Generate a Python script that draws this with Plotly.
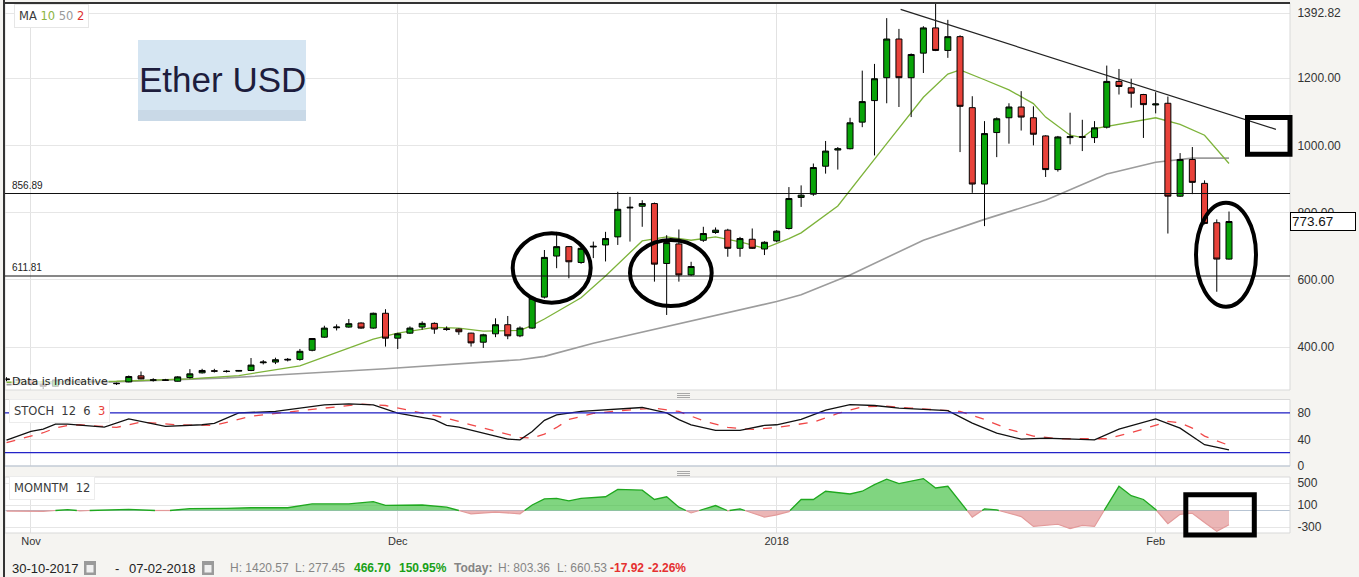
import numpy as np
import pandas as pd
import plotly.graph_objects as go

# ---------------- DATA ----------------
dates = pd.date_range("2017-10-30", "2018-02-07", freq="D")

open_ = [306, 304, 302, 290, 284, 303, 300, 297, 299, 293,
         297, 315, 302, 303, 299, 310, 324, 330, 329, 329,
         331, 354, 356, 362, 364, 391, 430, 458, 460, 472,
         457, 501,
         427, 442, 460, 471, 455, 454, 442, 415, 440, 467,
         434, 457, 549, 671, 699, 652, 698, 704, 728, 814,
         819, 827, 649, 707, 615, 718, 741, 748, 694, 721, 692,
         716, 753, 845, 855, 938, 986, 990, 1069, 1133, 1201,
         1316, 1201, 1274, 1349, 1282, 1323, 1112, 885, 1038, 1082,
         1114, 1082, 1028, 928, 1023, 1026, 1023, 1054, 1190, 1171, 1151,
         1120, 1125, 849, 958, 887, 770, 662]
high = [311, 309, 305, 293, 306, 307, 303, 302, 301, 295,
        316, 328, 308, 306, 314, 335, 336, 336, 332, 332,
        368, 362, 369, 368, 395, 427, 464, 468, 484, 474,
        503, 513,
        443, 462, 477, 474, 462, 456, 443, 440, 486, 493,
        462, 550, 689, 743, 700, 698, 714, 743, 862, 847,
        837, 830, 733, 750, 654, 758, 756, 752, 728, 753, 715,
        748, 876, 881, 946, 1013, 995, 1082, 1222, 1242, 1378,
        1346, 1273, 1354, 1420.57, 1373, 1327, 1146, 1072, 1083, 1125,
        1161, 1116, 1030, 1028, 1097, 1076, 1072, 1237, 1227, 1198, 1153,
        1158, 1145, 977, 995, 896, 780, 803.36]
low = [299, 300, 286, 277.45, 282, 296, 294, 292, 290, 288,
       296, 305, 298, 300, 298, 307, 322, 325, 325, 328,
       329, 349, 350, 358, 360, 388, 428, 450, 458, 455,
       455, 402,
       395, 440, 452, 440, 449, 437, 402, 398, 430, 424,
       430, 455, 545, 635, 605, 648, 665, 655, 704, 714,
       758, 595, 496, 595, 612, 713, 737, 669, 669, 692, 674,
       712, 750, 817, 850, 916, 928, 988, 1054, 970, 1125,
       1114, 1084, 1215, 1280, 1260, 980, 859, 760, 965, 1005,
       1044, 1000, 906, 922, 1003, 983, 1007, 1050, 1151, 1112, 1022,
       1095, 738, 847, 855, 765, 565, 660.53]
close = [304, 302, 290, 284, 303, 300, 297, 299, 293, 292,
         313, 306, 303, 302, 312, 321, 331, 329, 328, 331,
         347, 356, 363, 364, 388, 426, 457, 460, 470, 457,
         501, 427,
         440, 457, 471, 454, 453, 446, 413, 437, 467, 434,
         457, 546, 667, 699, 654, 694, 700, 723, 810, 816,
         827, 647, 711, 615, 640, 738, 748, 694, 723, 694, 712,
         745, 842, 852, 934, 983, 990, 1067, 1130, 1198, 1316,
         1201, 1270, 1349, 1282, 1323, 1116, 885, 1035, 1079, 1114,
         1084, 1033, 928, 1025, 1026, 1024, 1052, 1190, 1175, 1155, 1121,
         1123, 849, 958, 890, 768, 662, 773.67]

ma10_dates = ["2017-10-30", "2017-11-08", "2017-11-14", "2017-11-18", "2017-11-23", "2017-11-27",
              "2017-11-29", "2017-12-01", "2017-12-04", "2017-12-06", "2017-12-07", "2017-12-08",
              "2017-12-11", "2017-12-12", "2017-12-13", "2017-12-16", "2017-12-18", "2017-12-21",
              "2017-12-23", "2017-12-25", "2017-12-27", "2017-12-29", "2017-12-31", "2018-01-02",
              "2018-01-03", "2018-01-06", "2018-01-10", "2018-01-13", "2018-01-15", "2018-01-16",
              "2018-01-18", "2018-01-20", "2018-01-22", "2018-01-23", "2018-01-25", "2018-01-26",
              "2018-01-27", "2018-01-30", "2018-02-01", "2018-02-03", "2018-02-05", "2018-02-07"]
ma10 = [296, 299, 306, 316, 345, 398, 424, 442, 459, 457, 452, 448, 450, 465, 484,
        547, 612, 716, 728, 718, 728, 713, 694, 723, 740, 820, 1005, 1143, 1212, 1224,
        1195, 1165, 1124, 1084, 1030, 1023, 1050, 1069, 1082, 1062, 1030, 946]

ma50_dates = ["2017-10-30", "2017-11-06", "2017-11-17", "2017-11-30", "2017-12-11", "2017-12-13",
              "2017-12-17", "2017-12-26", "2018-01-01", "2018-01-03", "2018-01-07", "2018-01-13",
              "2018-01-18", "2018-01-23", "2018-01-28", "2018-02-01", "2018-02-04", "2018-02-07"]
ma50 = [289, 295, 309, 336, 363, 373, 412, 486, 536, 556, 615, 718, 780, 837, 915, 950, 962, 962]

stoch_k_dates = ["2017-10-30", "2017-11-01", "2017-11-02", "2017-11-03", "2017-11-04", "2017-11-07",
                 "2017-11-09", "2017-11-12", "2017-11-15", "2017-11-16", "2017-11-18", "2017-11-21",
                 "2017-11-25", "2017-11-27", "2017-11-29", "2017-12-01", "2017-12-04", "2017-12-05",
                 "2017-12-06", "2017-12-08", "2017-12-10", "2017-12-11", "2017-12-12", "2017-12-13",
                 "2017-12-14", "2017-12-16", "2017-12-18", "2017-12-21", "2017-12-23", "2017-12-24",
                 "2017-12-25", "2017-12-27", "2017-12-29", "2017-12-31", "2018-01-01", "2018-01-03",
                 "2018-01-05", "2018-01-07", "2018-01-09", "2018-01-11", "2018-01-15", "2018-01-17",
                 "2018-01-19", "2018-01-21", "2018-01-23", "2018-01-25", "2018-01-27", "2018-01-29",
                 "2018-02-01", "2018-02-03", "2018-02-05", "2018-02-07"]
stoch_k = [39, 52, 55.5, 63, 63, 58.6, 70.7, 59.5, 62, 64, 79.8, 82, 92, 93.5, 92,
           79.5, 69.7, 61, 58.6, 49.5, 40.4, 39.4, 52, 68.6, 77, 82, 84.8, 88, 79.8, 69.7,
           62, 53.5, 53.5, 61, 62, 70, 84, 92.4, 91, 87, 83.3, 64.6, 49.5, 40.4, 41.9,
           40.4, 39.4, 55.5, 70.7, 57, 32, 24.2]

stoch_d_dates = ["2017-10-30", "2017-11-01", "2017-11-02", "2017-11-03", "2017-11-04", "2017-11-05",
                 "2017-11-08", "2017-11-10", "2017-11-13", "2017-11-16", "2017-11-19", "2017-11-22",
                 "2017-11-26", "2017-11-28", "2017-11-30", "2017-12-02", "2017-12-05", "2017-12-07",
                 "2017-12-09", "2017-12-11", "2017-12-12", "2017-12-13", "2017-12-14", "2017-12-15",
                 "2017-12-17", "2017-12-19", "2017-12-22", "2017-12-24", "2017-12-26", "2017-12-28",
                 "2017-12-30", "2018-01-01", "2018-01-04", "2018-01-06", "2018-01-08", "2018-01-10",
                 "2018-01-12", "2018-01-16", "2018-01-18", "2018-01-20", "2018-01-22", "2018-01-24",
                 "2018-01-26", "2018-01-28", "2018-01-30", "2018-02-02", "2018-02-03", "2018-02-04",
                 "2018-02-05", "2018-02-07"]
stoch_d = [35, 45, 50, 57, 61, 62, 58, 66, 62, 61, 75, 81, 89, 93, 91, 83, 72, 62, 53, 43,
           42, 48, 58, 70, 79, 83, 87, 82, 68, 58, 55, 58, 66, 79, 89, 90, 87, 82, 70, 55,
           45, 41, 41, 41, 50, 67, 65, 57, 45, 31]

mom_dates = ["2017-10-30", "2017-11-02", "2017-11-04", "2017-11-05", "2017-11-09", "2017-11-12",
             "2017-11-14", "2017-11-17", "2017-11-19", "2017-11-22", "2017-11-24", "2017-11-27",
             "2017-11-29", "2017-11-30", "2017-12-02", "2017-12-03", "2017-12-05", "2017-12-07",
             "2017-12-09", "2017-12-11", "2017-12-12", "2017-12-13", "2017-12-14", "2017-12-15",
             "2017-12-16", "2017-12-18", "2017-12-19", "2017-12-21", "2017-12-22", "2017-12-23",
             "2017-12-24", "2017-12-25", "2017-12-27", "2017-12-28", "2017-12-29", "2017-12-31",
             "2018-01-01", "2018-01-02", "2018-01-03", "2018-01-04", "2018-01-05", "2018-01-07",
             "2018-01-08", "2018-01-09", "2018-01-10", "2018-01-11", "2018-01-13", "2018-01-14",
             "2018-01-15", "2018-01-17", "2018-01-18", "2018-01-19", "2018-01-21", "2018-01-22",
             "2018-01-24", "2018-01-25", "2018-01-26", "2018-01-27", "2018-01-28", "2018-01-29",
             "2018-01-30", "2018-01-31", "2018-02-01", "2018-02-02", "2018-02-03", "2018-02-04",
             "2018-02-05", "2018-02-06", "2018-02-07"]
mom_vals = [-10, -15, 15, -5, 20, -8, 35, 40, 50, 50, 120, 120,
            160, 95, 95, 100, 60, -60, -30, -60, 100, 210, 220, 175,
            220, 250, 385, 370, 200, 250, 60, -45, 90, -5, 30, -120,
            -80, -20, 200, 200, 350, 300, 350, 470, 570, 490, 580, 410,
            440, -120, 30, 10, -110, -290, -250, -330, -270, -290, 80, 440,
            270, 200, 20, -240, -70, -50, -220, -380, -260]

level_lines = [856.89, 611.81]
trend_dates = ["2018-01-11 03:20", "2018-02-10 20:10"]
trend_prices = [1404, 1047.6]
last_price = 773.67

main_ticks = [400, 600, 800, 1000, 1200, 1392.82]
stoch_ticks = [0, 40, 80]
mom_ticks = [-300, 100, 500]
month_ticks = ["2017-11-01", "2017-12-01", "2018-01-01", "2018-02-01"]
month_labels = ["Nov", "Dec", "2018", "Feb"]

# ---------------- LAYOUT HELPERS ----------------
W, H = 1359, 577
ML, MR, MT, MB = 5, 69, 3, 44
PX0, PX1, PY0, PY1 = ML, W - MR, MT, H - MB


def px(x):
    return (x - PX0) / (PX1 - PX0)


def py(y):
    return (PY1 - y) / (PY1 - PY0)


FONT = "Liberation Sans, Arial, sans-serif"
VFONT = "DejaVu Sans, Verdana, sans-serif"

fig = go.Figure()

# moving averages (below candles)
fig.add_trace(go.Scatter(x=ma50_dates, y=ma50, mode="lines", line=dict(color="#9c9c9c", width=1.6),
                         xaxis="x", yaxis="y", zorder=-1, showlegend=False, hoverinfo="skip"))
fig.add_trace(go.Scatter(x=ma10_dates, y=ma10, mode="lines", line=dict(color="#7db33a", width=1.3),
                         xaxis="x", yaxis="y", zorder=-1, showlegend=False, hoverinfo="skip"))

fig.add_trace(go.Candlestick(
    x=dates, open=open_, high=high, low=low, close=close,
    increasing=dict(line=dict(color="#000000", width=1), fillcolor="#08a308"),
    decreasing=dict(line=dict(color="#000000", width=1), fillcolor="#e8423a"),
    whiskerwidth=0, xaxis="x", yaxis="y", showlegend=False, hoverinfo="skip"))

# trend line
fig.add_trace(go.Scatter(x=trend_dates, y=trend_prices, mode="lines",
                         line=dict(color="#222222", width=1.2), xaxis="x", yaxis="y",
                         showlegend=False, hoverinfo="skip"))

# stochastic
fig.add_trace(go.Scatter(x=stoch_d_dates, y=stoch_d, mode="lines",
                         line=dict(color="#f04848", width=1.3, dash="dash"),
                         xaxis="x", yaxis="y2", showlegend=False, hoverinfo="skip"))
fig.add_trace(go.Scatter(x=stoch_k_dates, y=stoch_k, mode="lines",
                         line=dict(color="#111111", width=1.3),
                         xaxis="x", yaxis="y2", showlegend=False, hoverinfo="skip"))

# momentum: split into positive / negative areas at zero crossings
mt = pd.to_datetime(mom_dates).astype("int64").to_numpy()
mv = np.array(mom_vals, dtype=float)
xs, ys = [], []
for i in range(len(mv)):
    if i > 0 and mv[i - 1] * mv[i] < 0:
        t = mt[i - 1] + (mt[i] - mt[i - 1]) * (mv[i - 1] / (mv[i - 1] - mv[i]))
        xs.append(int(t))
        ys.append(0.0)
    xs.append(int(mt[i]))
    ys.append(float(mv[i]))
xs = pd.to_datetime(xs)
pos = [y if y >= 0 else None for y in ys]
neg = [y if y <= 0 else None for y in ys]
fig.add_trace(go.Scatter(x=xs, y=neg, mode="lines", fill="tozeroy", fillcolor="rgba(215,110,110,0.5)",
                         line=dict(color="#e39a9a", width=1.2), connectgaps=False,
                         xaxis="x", yaxis="y3", showlegend=False, hoverinfo="skip"))
fig.add_trace(go.Scatter(x=xs, y=pos, mode="lines", fill="tozeroy", fillcolor="rgba(60,190,60,0.65)",
                         line=dict(color="#1fa81f", width=1.3), connectgaps=False,
                         xaxis="x", yaxis="y3", showlegend=False, hoverinfo="skip"))

# ---------------- AXES ----------------
tickfont = dict(family=FONT, size=12, color="#333333")
fig.update_layout(
    width=W, height=H,
    margin=dict(l=ML, r=MR, t=MT, b=MB, pad=0),
    paper_bgcolor="#f5f4f1", plot_bgcolor="#ffffff",
    showlegend=False, hovermode=False,
    font=dict(family=FONT, size=12, color="#333333"),
    xaxis=dict(type="date", range=["2017-10-29 21:00", "2018-02-11 23:45"], anchor="y3",
               tickvals=month_ticks, ticktext=month_labels, showgrid=True, gridcolor="#e2e2e2",
               gridwidth=1, ticks="", tickfont=dict(family=FONT, size=11, color="#333333"),
               showline=False, zeroline=False, automargin=False,
               rangeslider=dict(visible=False)),
    yaxis=dict(domain=[py(390), 1.0], range=[273, 1423], side="right", anchor="x",
               tickvals=main_ticks, ticktext=["%.2f" % v for v in main_ticks],
               showgrid=True, gridcolor="#e6e6e6", zeroline=False, ticks="outside", ticklen=4,
               tickcolor="rgba(0,0,0,0)", tickfont=tickfont, automargin=False, showline=False),
    yaxis2=dict(domain=[py(466), py(399.5)], range=[0, 100], side="right", anchor="x",
                tickvals=stoch_ticks, ticktext=[str(v) for v in stoch_ticks],
                showgrid=True, gridcolor="#e6e6e6", zeroline=False, ticks="outside", ticklen=4,
                tickcolor="rgba(0,0,0,0)", tickfont=tickfont, automargin=False),
    yaxis3=dict(domain=[0, py(477)], range=[-409, 609], side="right", anchor="x",
                tickvals=mom_ticks, ticktext=[str(v) for v in mom_ticks],
                showgrid=True, gridcolor="#e6e6e6", zeroline=True, zerolinecolor="#b7c4d3",
                zerolinewidth=1.2, ticks="outside", ticklen=4,
                tickcolor="rgba(0,0,0,0)", tickfont=tickfont, automargin=False),
)

shapes = []
# panel borders
for (y0, y1) in [(3, 390), (399.5, 466), (477, 533)]:
    shapes.append(dict(type="rect", xref="paper", yref="paper", x0=0, x1=1, y0=py(y1), y1=py(y0),
                       line=dict(color="#d9d9d9", width=1), layer="above"))
shapes.append(dict(type="line", xref="paper", yref="paper", x0=0, x1=1, y0=py(466), y1=py(466),
                   line=dict(color="#b7c4d3", width=1.2)))
# outer frame (left & top)
shapes.append(dict(type="line", xref="paper", yref="paper", x0=px(4), x1=px(4), y0=py(0), y1=py(577),
                   line=dict(color="#333333", width=2)))
shapes.append(dict(type="line", xref="paper", yref="paper", x0=px(3), x1=px(1290), y0=py(3), y1=py(3),
                   line=dict(color="#333333", width=2)))
# level lines
for lv in level_lines:
    shapes.append(dict(type="line", xref="paper", yref="y", x0=0, x1=1, y0=lv, y1=lv,
                       line=dict(color="#111111", width=1.2)))
# stochastic 80 / 20 lines
for lv in (80, 20):
    shapes.append(dict(type="line", xref="paper", yref="y2", x0=0, x1=1, y0=lv, y1=lv,
                       line=dict(color="#2323c8", width=1.2)))
# ellipses
for (x0, x1, y0, y1) in [(512.7, 590.7, 233.3, 302.7), (630, 711.7, 240, 306), (1196, 1256, 202.7, 306.7)]:
    shapes.append(dict(type="circle", xref="paper", yref="paper", x0=px(x0), x1=px(x1),
                       y0=py(y1), y1=py(y0), line=dict(color="#000000", width=4)))
# rectangles
for (x0, x1, y0, y1) in [(1247.5, 1290, 117.5, 154.2), (1185.8, 1254.3, 494.8, 535)]:
    shapes.append(dict(type="rect", xref="paper", yref="paper", x0=px(x0), x1=px(x1),
                       y0=py(y1), y1=py(y0), line=dict(color="#000000", width=5)))
# logo background
shapes.append(dict(type="rect", xref="paper", yref="paper", x0=px(138), x1=px(306), y0=py(121), y1=py(40),
                   fillcolor="#d5e5f2", line=dict(width=0), layer="above"))
shapes.append(dict(type="rect", xref="paper", yref="paper", x0=px(138), x1=px(306), y0=py(121), y1=py(110),
                   fillcolor="#c9d9e7", line=dict(width=0), layer="above"))
# drag handles
for ys_ in ([393.5, 395.5, 397.5], [471.5, 473.5, 475.5]):
    for yy in ys_:
        shapes.append(dict(type="line", xref="paper", yref="paper", x0=px(677), x1=px(690),
                           y0=py(yy), y1=py(yy), line=dict(color="#a8a8a8", width=1)))
# calendar icons
for x0 in (84, 202):
    shapes.append(dict(type="rect", xref="paper", yref="paper", x0=px(x0), x1=px(x0 + 12),
                       y0=py(575), y1=py(561), fillcolor="#9a9a9a", line=dict(width=0)))
    shapes.append(dict(type="rect", xref="paper", yref="paper", x0=px(x0 + 2.5), x1=px(x0 + 9.5),
                       y0=py(572.5), y1=py(565), fillcolor="#f0f0f0", line=dict(width=0)))
fig.update_layout(shapes=shapes)

ann = []


def text(x, y, s, size=12, color="#333333", family=FONT, xanchor="left", yanchor="middle", **kw):
    ann.append(dict(x=px(x), y=py(y), xref="paper", yref="paper", text=s, showarrow=False,
                    xanchor=xanchor, yanchor=yanchor, font=dict(size=size, color=color, family=family), **kw))


# indicator labels
text(14, 16, "MA <span style='color:#8bb43e'>10</span> <span style='color:#9a9a9a'>50</span> "
             "<span style='color:#dd2f2f'>2</span>", size=11.5, color="#3a3a3a", family=VFONT,
     bgcolor="#ffffff", bordercolor="#e6e6e6", borderwidth=1, borderpad=4)
text(9, 411, "STOCH&nbsp; 12&nbsp; 6&nbsp; <span style='color:#e8403a'>3</span>", size=11.5,
     color="#3a3a3a", family=VFONT, bgcolor="#ffffff", bordercolor="#ececec", borderwidth=1, borderpad=4)
text(9, 488, "MOMNTM&nbsp; 12", size=11.5, color="#3a3a3a", family=VFONT,
     bgcolor="#ffffff", bordercolor="#ececec", borderwidth=1, borderpad=4)
text(11, 381, "Data is Indicative", size=11, color="#222222", family=VFONT,
     bgcolor="rgba(255,255,255,0.75)", borderpad=0)

# logo text
text(222, 80, "Ether USD", size=35, color="#1d1d3d", family=FONT, xanchor="center")

# level labels
for lv in level_lines:
    ann.append(dict(x=px(10), y=lv, xref="paper", yref="y", text="%.2f" % lv, showarrow=False,
                    xanchor="left", yanchor="bottom", yshift=1,
                    font=dict(size=10, color="#222222", family=FONT)))

# last price box
ann.append(dict(x=1.0, y=last_price, xref="paper", yref="y", text="%.2f" % last_price, showarrow=False,
                xanchor="left", yanchor="middle", align="left", width=62, height=15,
                bgcolor="#ffffff", bordercolor="#000000", borderwidth=1, borderpad=1,
                font=dict(size=13.5, color="#111111", family=FONT)))

# bottom bar
text(10, 568, "30-10-2017", size=13, color="#222222")
text(113, 568, "-", size=13, color="#222222")
text(127, 568, "07-02-2018", size=13, color="#222222")
text(228, 568, "H: 1420.57", size=12, color="#858585")
text(293, 568, "L: 277.45", size=12, color="#858585")
text(352, 568, "<b>466.70</b>", size=12, color="#18a018")
text(397, 568, "<b>150.95%</b>", size=12, color="#18a018")
text(452, 568, "<b>Today:</b>", size=12, color="#858585")
text(496, 568, "H: 803.36", size=12, color="#858585")
text(555, 568, "L: 660.53", size=12, color="#858585")
text(608, 568, "<b>-17.92</b>", size=12, color="#e53030")
text(646, 568, "<b>-2.26%</b>", size=12, color="#e53030")

fig.update_layout(annotations=ann)

fig.write_html("out.html", config={"displayModeBar": False},
               post_script="document.body.style.margin='0';document.body.style.overflow='hidden';")
